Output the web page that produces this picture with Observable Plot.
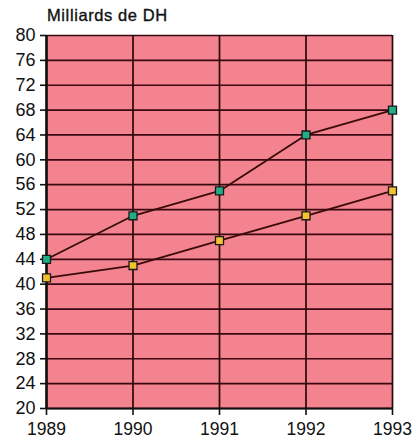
<!DOCTYPE html>
<html><head><meta charset="utf-8">
<script src="https://cdn.jsdelivr.net/npm/d3@7"></script>
<script src="https://cdn.jsdelivr.net/npm/@observablehq/plot@0.6"></script>
<style>
body{margin:0;background:#fff;font-family:"Liberation Sans",Arial,sans-serif;}
#title{height:24px;line-height:30px;padding-left:47px;font-size:16.5px;color:#111;letter-spacing:0.6px;-webkit-text-stroke:0.35px #111;}
#chart svg text{-webkit-text-stroke:0.45px #111;}
</style></head>
<body>
<div id="title">Milliards de DH</div>
<div id="chart"></div>
<script>
const years = [1989, 1990, 1991, 1992, 1993];
const serieVerte = [44, 51, 55, 64, 68];
const serieJaune = [41, 43, 47, 51, 55];
const yTicks = d3.range(20, 81, 4);

const data = [
  ...years.map((y, i) => ({year: y, value: serieVerte[i], s: "verte"})),
  ...years.map((y, i) => ({year: y, value: serieJaune[i], s: "jaune"}))
];

const chart = Plot.plot({
  width: 413,
  height: 416,
  marginLeft: 46,
  marginRight: 21,
  marginTop: 11,
  marginBottom: 32,
  style: {fontFamily: "'Liberation Sans', Arial, sans-serif", fontSize: "18px", color: "#111", background: "transparent"},
  x: {domain: [1989, 1993], ticks: years, tickFormat: d => String(d), label: null},
  y: {domain: [20, 80], ticks: yTicks, label: null},
  marks: [
    Plot.frame({fill: "#f3838e", stroke: null}),
    Plot.gridY(yTicks, {stroke: "#3a0810", strokeOpacity: 1, strokeWidth: 1.7}),
    Plot.gridX(years, {stroke: "#2a0808", strokeOpacity: 1, strokeWidth: 1.7}),
    Plot.axisY({ticks: yTicks, tickSize: 6, tickPadding: 5, stroke: "#111", strokeWidth: 1.6, fontSize: 18}),
    Plot.axisX({ticks: years, tickFormat: d => String(d), tickSize: 7, tickPadding: 7, stroke: "#111", strokeWidth: 1.6, fontSize: 17.5}),
    Plot.ruleX([1989], {stroke: "#111", strokeWidth: 2.5}),
    Plot.ruleY([20], {stroke: "#111", strokeWidth: 2}),
    Plot.line(data, {x: "year", y: "value", z: "s", stroke: "#3a0a0a", strokeWidth: 1.8}),
    Plot.dot(data, {x: "year", y: "value", symbol: "square", r: 4.5,
      fill: d => d.s === "verte" ? "#1fae88" : "#f4c22c", stroke: "#1a1a1a", strokeWidth: 1.3})
  ]
});
document.getElementById("chart").appendChild(chart);
</script>
</body></html>
